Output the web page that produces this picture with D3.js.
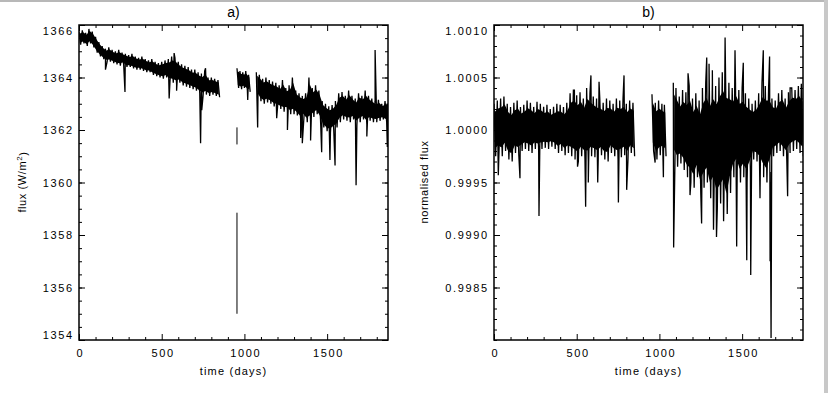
<!DOCTYPE html>
<html>
<head>
<meta charset="utf-8">
<script src="https://cdn.jsdelivr.net/npm/d3@7/dist/d3.min.js"></script>
<style>
    body { margin: 0; background: #fff; }
    svg text { font-family: "Liberation Sans", Arial, sans-serif; fill: #000; }
</style>
</head>
<body>
<div id="chart"></div>
<script>
// panel a) : 20-day bins, upper / lower edge of the noisy band
const daysA = [0, 20, 40, 60, 80, 100, 120, 140, 160, 180, 200, 220, 240, 260, 280, 300, 320, 340, 360, 380,
    400, 420, 440, 460, 480, 500, 520, 540, 560, 580, 600, 620, 640, 660, 680, 700, 720, 740, 760, 780, 800, 820, 840,
    955, 973, 990, 1008, 1025,
    1072, 1090, 1110, 1130, 1150, 1170, 1190, 1210, 1230, 1250, 1270, 1290, 1310, 1330, 1350, 1370, 1390, 1410,
    1430, 1450, 1470, 1490, 1510, 1530, 1550, 1570, 1590, 1610, 1630, 1650, 1670, 1690, 1710, 1730, 1750, 1770,
    1790, 1810, 1830, 1850, 1866];
const hiA = [1365.75, 1365.8, 1365.7, 1365.85, 1365.75, 1365.55, 1365.35, 1365.2, 1365.1, 1365.15, 1365.05, 1365.0,
    1365.05, 1364.95, 1364.9, 1364.85, 1364.9, 1364.8, 1364.75, 1364.8, 1364.7, 1364.65, 1364.7, 1364.6, 1364.55,
    1364.6, 1364.65, 1364.7, 1364.8, 1364.75, 1364.6, 1364.5, 1364.45, 1364.4, 1364.3, 1364.3, 1364.2, 1364.15,
    1364.25, 1364.0, 1364.0, 1363.95, 1363.9,
    1364.35, 1364.25, 1364.2, 1364.25, 1364.1,
    1364.2, 1364.1, 1363.95, 1364.0, 1363.9, 1363.85, 1363.8, 1363.7, 1363.9, 1363.6, 1363.7, 1364.0, 1363.5,
    1363.4, 1363.3, 1363.4, 1364.0, 1363.6, 1363.7, 1363.5, 1363.1, 1363.0, 1362.9, 1362.95, 1363.1, 1363.4,
    1363.45, 1363.3, 1363.5, 1363.3, 1363.2, 1363.4, 1363.3, 1363.5, 1363.3, 1363.2, 1363.1, 1363.15, 1363.0,
    1363.1, 1363.0];
const loA = [1365.25, 1365.3, 1365.2, 1365.3, 1365.15, 1364.95, 1364.8, 1364.7, 1364.6, 1364.6, 1364.55, 1364.5,
    1364.45, 1364.5, 1364.4, 1364.4, 1364.35, 1364.3, 1364.3, 1364.25, 1364.2, 1364.2, 1364.1, 1364.05, 1364.0,
    1363.95, 1364.0, 1363.85, 1363.8, 1363.75, 1363.8, 1363.7, 1363.65, 1363.6, 1363.55, 1363.5, 1363.4, 1363.3,
    1363.35, 1363.3, 1363.35, 1363.3, 1363.25,
    1363.6, 1363.55, 1363.6, 1363.5, 1363.45,
    1363.3, 1363.1, 1363.0, 1363.05, 1363.0, 1362.9, 1362.85, 1362.8, 1362.7, 1362.75, 1362.6, 1362.6, 1362.55,
    1362.4, 1362.5, 1362.3, 1362.3, 1362.5, 1362.6, 1362.4, 1362.1, 1361.95, 1361.9, 1362.0, 1362.1, 1362.3,
    1362.4, 1362.35, 1362.3, 1362.4, 1362.2, 1362.3, 1362.4, 1362.2, 1362.35, 1362.3, 1362.3, 1362.35, 1362.4,
    1362.3, 1362.4];
// single readings that stick out of the band
const spikesA = [[160, 1364.3], [278, 1363.45], [545, 1363.2], [575, 1364.93], [590, 1363.5], [735, 1361.5],
    [742, 1362.75], [765, 1364.35], [1020, 1363.14], [1080, 1362.1], [1195, 1362.45], [1260, 1362.0],
    [1340, 1361.7], [1350, 1361.5], [1400, 1361.6], [1467, 1361.15], [1517, 1360.86], [1548, 1360.65],
    [1675, 1359.9], [1740, 1361.75], [1790, 1365.05], [1864, 1361.35]];
// isolated drop near day 955: [day, from, to]
const dropsA = [[955, 1362.1, 1361.45], [955, 1358.85, 1355.0]];

// panel b) : normalised flux
const daysB = [0, 20, 40, 60, 80, 100, 120, 140, 160, 180, 200, 220, 240, 260, 280, 300, 320, 340, 360, 380,
    400, 420, 440, 460, 480, 500, 520, 540, 560, 580, 600, 620, 640, 660, 680, 700, 720, 740, 760, 780, 800, 820, 840,
    955, 975, 995, 1015, 1030,
    1084, 1100, 1120, 1140, 1160, 1180, 1200, 1220, 1240, 1260, 1280, 1300, 1320, 1340, 1360, 1380, 1400, 1420,
    1440, 1460, 1480, 1500, 1520, 1540, 1560, 1580, 1600, 1620, 1640, 1660, 1680, 1700, 1720, 1740, 1760, 1780,
    1800, 1820, 1840, 1860];
const hiB = [1.00025, 1.00028, 1.00030, 1.00032, 1.00025, 1.00022, 1.00026, 1.00028, 1.00022, 1.00024, 1.00028,
    1.00026, 1.00022, 1.00027, 1.00025, 1.00022, 1.00024, 1.00020, 1.00022, 1.00025, 1.00024, 1.00022, 1.00026,
    1.00035, 1.00038, 1.00033, 1.00036, 1.00030, 1.00040, 1.00035, 1.00032, 1.00030, 1.00028, 1.00026, 1.00030,
    1.00028, 1.00025, 1.00030, 1.00028, 1.00030, 1.00025, 1.00028, 1.00026,
    1.00034, 1.00026, 1.00028, 1.00025, 1.00024,
    1.00045, 1.00040, 1.00032, 1.00038, 1.00036, 1.00042, 1.00030, 1.00035, 1.00028, 1.00040, 1.00045, 1.00038,
    1.00045, 1.00042, 1.00050, 1.00055, 1.00050, 1.00045, 1.00040, 1.00045, 1.00038, 1.00040, 1.00035, 1.00030,
    1.00025, 1.00028, 1.00035, 1.00045, 1.00042, 1.00040, 1.00030, 1.00028, 1.00035, 1.00038, 1.00030, 1.00036,
    1.00040, 1.00038, 1.00042, 1.00036];
const loB = [0.99975, 0.99978, 0.99975, 0.99980, 0.99972, 0.99970, 0.99978, 0.99976, 0.99980, 0.99982, 0.99980,
    0.99978, 0.99982, 0.99980, 0.99982, 0.99983, 0.99982, 0.99984, 0.99982, 0.99978, 0.99980, 0.99976, 0.99978,
    0.99975, 0.99972, 0.99970, 0.99975, 0.99972, 0.99970, 0.99975, 0.99974, 0.99972, 0.99976, 0.99972, 0.99970,
    0.99978, 0.99975, 0.99972, 0.99974, 0.99976, 0.99972, 0.99978, 0.99975,
    0.99980, 0.99972, 0.99976, 0.99978, 0.99975,
    0.99970, 0.99965, 0.99968, 0.99962, 0.99955, 0.99950, 0.99945, 0.99955, 0.99940, 0.99945, 0.99950, 0.99935,
    0.99940, 0.99925, 0.99930, 0.99935, 0.99920, 0.99940, 0.99955, 0.99960, 0.99950, 0.99955, 0.99950, 0.99960,
    0.99972, 0.99970, 0.99965, 0.99955, 0.99950, 0.99960, 0.99975, 0.99978, 0.99980, 0.99975, 0.99972, 0.99978,
    0.99980, 0.99982, 0.99978, 0.99975];
const spikesB = [[26, 0.99957], [157, 0.99954], [272, 0.99918], [486, 1.00038], [505, 0.99965], [554, 0.99927],
    [570, 0.99950], [586, 1.00052], [627, 0.99950], [635, 1.00046], [752, 0.99931], [786, 1.00052],
    [802, 0.99943], [974, 0.99969], [1024, 0.99955], [1086, 0.99888], [1173, 1.00054], [1185, 0.99938],
    [1255, 0.99911], [1286, 1.00069], [1300, 1.00063], [1320, 1.00057], [1327, 0.99905], [1345, 0.99898],
    [1388, 0.99913], [1397, 1.00088], [1457, 1.00076], [1467, 0.99889], [1507, 1.00064], [1528, 0.99876],
    [1552, 0.99862], [1608, 0.99935], [1628, 1.00076], [1666, 1.00070], [1669, 0.99875], [1675, 0.99802],
    [1775, 0.99937], [1790, 1.00040], [1858, 1.00044]];

const titles = ["a)", "b)"];
const xTicks = [0, 500, 1000, 1500];
const xMinor = [100, 200, 300, 400, 600, 700, 800, 900, 1100, 1200, 1300, 1400, 1600, 1700, 1800];
const yTicksA = [1354, 1356, 1358, 1360, 1362, 1364, 1366];
const yTicksB = [0.9985, 0.9990, 0.9995, 1.0000, 1.0005, 1.0010];

(function() {
    let w = 830;
    let h = 393;
    let top = 25;
    let bottom = 340;
    let dayMax = 1868;
    let coreShare = 0.7;   // how much of the band is drawn solid, the rest is left to the zig-zag

    let svg = d3.select("#chart")
        .append("svg")
        .attr("width", w)
        .attr("height", h);

    // light grey frame of the original screenshot
    svg.append("rect").attr("x", 0).attr("y", 0).attr("width", 826).attr("height", 2).attr("fill", "#b8b8b8");
    svg.append("rect").attr("x", 824).attr("y", 0).attr("width", 4).attr("height", h).attr("fill", "#c8c8c8");

    // put a null wherever the record has a hole
    let withGaps = (pts) => {
        let out = [];
        pts.forEach((p, i) => {
            if (i > 0 && p[0] - pts[i - 1][0] > 30) out.push(null);
            out.push(p);
        });
        return out;
    };

    // zig-zag through the band, with the stray readings slotted in by day
    let buildPoints = (days, hi, lo, spikes) => {
        let pts = [];
        days.forEach((d, i) => {
            pts.push([d, hi[i]]);
            pts.push([d + 10, lo[i]]);
        });
        spikes.forEach((s) => pts.push([s[0], s[1]]));
        pts.sort((a, b) => a[0] - b[0]);
        return withGaps(pts);
    };

    let buildBand = (days, hi, lo) => withGaps(days.map((d, i) => [d + 5, lo[i], hi[i]]));

    let panels = [
        {left: 79, right: 388, domain: [1354, 1366], ticks: yTicksA, minorStep: 0.5,
            fmt: d3.format("d"), pts: buildPoints(daysA, hiA, loA, spikesA), band: buildBand(daysA, hiA, loA),
            drops: dropsA, ylabel: "flux (W/m", ylabelX: 26},
        {left: 494, right: 803, domain: [0.998, 1.001], ticks: yTicksB, minorStep: 0.0001,
            fmt: d3.format(".4f"), pts: buildPoints(daysB, hiB, loB, spikesB), band: buildBand(daysB, hiB, loB),
            drops: [], ylabel: "normalised flux", ylabelX: 428}
    ];

    panels.forEach((p, k) => {
        let x = d3.scaleLinear().domain([0, dayMax]).range([p.left, p.right]);
        let y = d3.scaleLinear().domain(p.domain).range([bottom, top]);

        let minorY = [];
        for (let v = p.domain[0]; v <= p.domain[1] + 1e-9; v += p.minorStep) minorY.push(+v.toFixed(5));

        let clipId = "clip" + k;
        svg.append("clipPath").attr("id", clipId)
            .append("rect")
            .attr("x", p.left).attr("y", top)
            .attr("width", p.right - p.left).attr("height", bottom - top);

        // solid core of the band, pulled in from the outer edges
        let inset = (1 - coreShare) / 2;
        let area = d3.area()
            .defined((d) => d !== null)
            .x((d) => x(d[0]))
            .y0((d) => y(d[1] + (d[2] - d[1]) * inset))
            .y1((d) => y(d[2] - (d[2] - d[1]) * inset));

        svg.append("path")
            .datum(p.band)
            .attr("clip-path", "url(#" + clipId + ")")
            .attr("fill", "#000")
            .attr("d", area);

        let line = d3.line()
            .defined((d) => d !== null)
            .x((d) => x(d[0]))
            .y((d) => y(d[1]));

        svg.append("path")
            .datum(p.pts)
            .attr("clip-path", "url(#" + clipId + ")")
            .attr("fill", "none")
            .attr("stroke", "#000")
            .attr("stroke-width", 1.3)
            .attr("stroke-linejoin", "miter")
            .attr("d", line);

        svg.selectAll(".drop" + k)
            .data(p.drops)
            .enter()
            .append("line")
            .attr("x1", (d) => x(d[0]))
            .attr("x2", (d) => x(d[0]))
            .attr("y1", (d) => y(d[1]))
            .attr("y2", (d) => y(d[2]))
            .attr("stroke", "#000")
            .attr("stroke-width", 1);

        // ticks pointing inwards on all four sides
        let addAxis = (axis, tx, ty, vals, size, labels) => {
            let g = svg.append("g")
                .attr("transform", "translate(" + tx + "," + ty + ")")
                .call(axis.tickValues(vals).tickSize(size).tickSizeOuter(0));
            g.select(".domain").remove();
            g.selectAll("line").attr("stroke", "#000").attr("stroke-width", 1);
            if (!labels) g.selectAll("text").remove();
            return g;
        };

        let bx = addAxis(d3.axisBottom(x).tickPadding(9).tickFormat(d3.format("d")), 0, bottom, xTicks, -6, true);
        bx.selectAll("text")
            .attr("font-size", 11)
            .style("letter-spacing", "1.6px")
            .attr("dx", "0.8px");
        addAxis(d3.axisBottom(x), 0, bottom, xMinor, -3, false);
        addAxis(d3.axisTop(x), 0, top, xTicks, -6, false);
        addAxis(d3.axisTop(x), 0, top, xMinor, -3, false);

        let ly = addAxis(d3.axisLeft(y).tickPadding(7).tickFormat(p.fmt), p.left, 0, p.ticks, -6, true);
        ly.selectAll("text")
            .attr("font-size", 11)
            .style("letter-spacing", "1.6px")
            .attr("dx", "1.6px")
            .attr("dy", (d) => d === p.domain[1] ? "0.82em" : (d === p.domain[0] ? "-0.1em" : "0.36em"));
        addAxis(d3.axisLeft(y), p.left, 0, minorY, -3, false);
        addAxis(d3.axisRight(y), p.right, 0, p.ticks, -6, false);
        addAxis(d3.axisRight(y), p.right, 0, minorY, -3, false);

        svg.append("rect")
            .attr("x", p.left).attr("y", top)
            .attr("width", p.right - p.left).attr("height", bottom - top)
            .attr("fill", "none")
            .attr("stroke", "#000")
            .attr("stroke-width", 1.5);

        svg.append("text")
            .attr("x", (p.left + p.right) / 2)
            .attr("y", 17)
            .attr("text-anchor", "middle")
            .attr("font-size", 14)
            .text(titles[k]);

        svg.append("text")
            .attr("x", (p.left + p.right) / 2)
            .attr("y", 375)
            .attr("text-anchor", "middle")
            .attr("font-size", 11)
            .style("letter-spacing", "1.2px")
            .text("time (days)");

        let yl = svg.append("text")
            .attr("transform", "translate(" + p.ylabelX + "," + 182 + ") rotate(-90)")
            .attr("text-anchor", "middle")
            .attr("font-size", 11)
            .style("letter-spacing", "0.6px")
            .text(p.ylabel);
        if (k === 0) {
            yl.append("tspan").attr("dy", "-0.45em").attr("font-size", 8).text("2");
            yl.append("tspan").attr("dy", "0.45em").text(")");
        }
    });
})();
</script>
</body>
</html>
